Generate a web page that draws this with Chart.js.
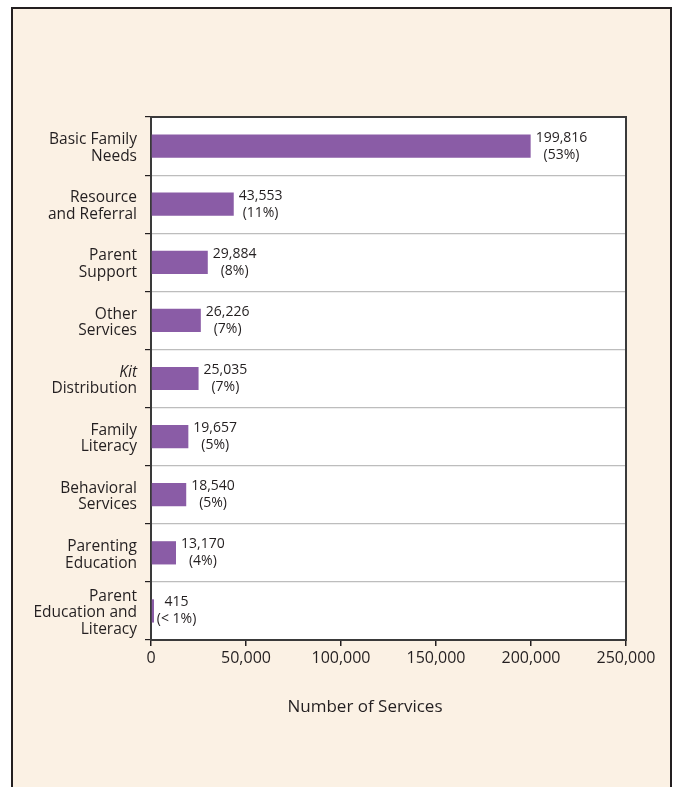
<!DOCTYPE html>
<html>
<head>
<meta charset="utf-8">
<script src="https://cdn.jsdelivr.net/npm/chart.js@4.4.0/dist/chart.umd.min.js"></script>
<style>
  html, body { margin: 0; padding: 0; background: #ffffff; }
  canvas { display: block; }
</style>
</head>
<body>
<canvas id="chart" width="676" height="787"></canvas>
<script>
// Chart data
const categories = [
    ['Basic Family', 'Needs'],
    ['Resource', 'and Referral'],
    ['Parent', 'Support'],
    ['Other', 'Services'],
    ['Kit', 'Distribution'],
    ['Family', 'Literacy'],
    ['Behavioral', 'Services'],
    ['Parenting', 'Education'],
    ['Parent', 'Education and', 'Literacy']
];
const services = [199816, 43553, 29884, 26226, 25035, 19657, 18540, 13170, 415];
const shares = ['(53%)', '(11%)', '(8%)', '(7%)', '(7%)', '(5%)', '(5%)', '(4%)', '(< 1%)'];
const xTicks = [0, 50000, 100000, 150000, 200000, 250000];
const italicWords = ['Kit'];
const xTitle = 'Number of Services';

const FONT = '"Open Sans", sans-serif';
const INK = '#231f20';
const CREAM = '#fbf1e4';
const PURPLE = '#8a5ca6';

// background, outer frame and white plot area
const backdrop = {
    id: 'backdrop',
    beforeDraw(chart) {
        const ctx = chart.ctx;
        const a = chart.chartArea;
        ctx.save();
        ctx.fillStyle = '#ffffff';
        ctx.fillRect(0, 0, chart.width, chart.height);
        ctx.fillStyle = CREAM;
        ctx.fillRect(12, 8, 659, chart.height - 8);
        ctx.strokeStyle = INK;
        ctx.lineWidth = 2;
        ctx.beginPath();
        ctx.moveTo(12, chart.height);
        ctx.lineTo(12, 8);
        ctx.lineTo(671, 8);
        ctx.lineTo(671, chart.height);
        ctx.stroke();
        ctx.fillStyle = '#ffffff';
        ctx.fillRect(a.left, a.top, a.right - a.left, a.bottom - a.top);
        ctx.restore();
    },
    // frame around the plot, under the bars
    beforeDatasetsDraw(chart) {
        const ctx = chart.ctx;
        const a = chart.chartArea;
        ctx.save();
        ctx.strokeStyle = '#3a3a3a';
        ctx.lineWidth = 2;
        ctx.strokeRect(a.left, a.top, a.right - a.left, a.bottom - a.top);
        ctx.restore();
    }
};

// category labels, value labels and axis title
const annotate = {
    id: 'annotate',
    afterDatasetsDraw(chart) {
        const ctx = chart.ctx;
        const a = chart.chartArea;
        const xs = chart.scales.x;
        const ys = chart.scales.y;
        ctx.save();

        // category labels
        ctx.fillStyle = INK;
        ctx.textAlign = 'right';
        ctx.textBaseline = 'middle';
        const lh = 16.5;
        categories.forEach((lines, i) => {
            const cy = ys.getPixelForValue(i) + 2;
            const y0 = cy - (lines.length - 1) * lh / 2;
            lines.forEach((line, j) => {
                const it = italicWords.includes(line);
                ctx.font = (it ? 'italic ' : '') + '15.5px ' + FONT;
                ctx.fillText(line, a.left - 14, y0 + j * lh);
            });
        });

        // value labels
        ctx.font = '14px ' + FONT;
        ctx.textAlign = 'center';
        services.forEach((v, i) => {
            const top = v.toLocaleString('en-US');
            const bot = shares[i];
            const w = Math.max(ctx.measureText(top).width, ctx.measureText(bot).width);
            const cx = xs.getPixelForValue(v) + 5 + w / 2;
            const cy = ys.getPixelForValue(i);
            ctx.fillText(top, cx, cy - 8.5);
            ctx.fillText(bot, cx, cy + 8.5);
        });

        // axis title
        ctx.font = '17px ' + FONT;
        ctx.fillText(xTitle, 365, 707);
        ctx.restore();
    }
};

new Chart(document.getElementById('chart'), {
    type: 'bar',
    data: {
        labels: categories.map(c => c.join(' ')),
        datasets: [{
            data: services,
            backgroundColor: PURPLE,
            borderWidth: 0,
            barPercentage: 0.4,
            categoryPercentage: 1,
            minBarLength: 3
        }]
    },
    options: {
        indexAxis: 'y',
        responsive: false,
        animation: false,
        devicePixelRatio: 1,
        layout: { padding: { left: 145, top: 117, right: 50, bottom: 0 } },
        plugins: {
            legend: { display: false },
            tooltip: { enabled: false }
        },
        scales: {
            x: {
                min: 0,
                max: 250000,
                afterBuildTicks: scale => {
                    scale.ticks = xTicks.map(v => ({ value: v }));
                },
                afterFit: scale => { scale.height = 147; },
                ticks: {
                    color: INK,
                    font: { family: FONT, size: 16 },
                    padding: 3,
                    maxRotation: 0,
                    callback: v => v.toLocaleString('en-US')
                },
                grid: {
                    drawOnChartArea: false,
                    tickLength: 6,
                    tickColor: INK,
                    lineWidth: 1.5
                },
                border: { color: '#3a3a3a', width: 2 }
            },
            y: {
                afterFit: scale => { scale.width = 6; },
                ticks: { display: false },
                grid: {
                    offset: true,
                    color: '#bdbdbd',
                    lineWidth: 1.2,
                    tickLength: 6,
                    tickColor: INK
                },
                border: { color: '#3a3a3a', width: 2 }
            }
        }
    },
    plugins: [backdrop, annotate]
});
</script>
</body>
</html>
